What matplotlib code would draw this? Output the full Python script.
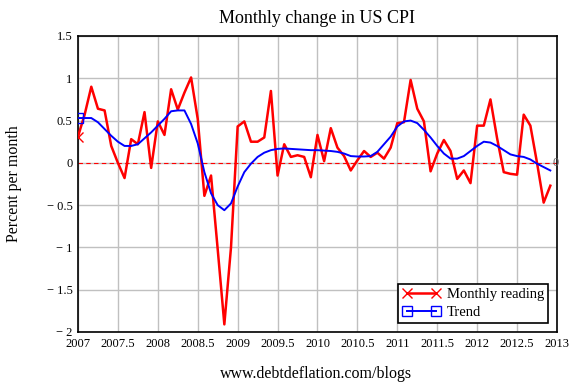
import numpy as np
import matplotlib.pyplot as plt
from matplotlib.ticker import FuncFormatter

# monthly CPI change, Jan 2007 - Dec 2012
monthly = [0.31, 0.57, 0.90, 0.64, 0.62, 0.20, 0.00, -0.18, 0.28, 0.22, 0.60, -0.06,
           0.49, 0.33, 0.87, 0.63, 0.83, 1.01, 0.52, -0.39, -0.15, -1.02, -1.91, -1.00,
           0.43, 0.49, 0.25, 0.25, 0.30, 0.85, -0.15, 0.22, 0.07, 0.09, 0.07, -0.17,
           0.33, 0.02, 0.41, 0.18, 0.08, -0.09, 0.03, 0.14, 0.07, 0.12, 0.05, 0.18,
           0.47, 0.48, 0.98, 0.64, 0.49, -0.10, 0.11, 0.27, 0.14, -0.19, -0.09, -0.24,
           0.44, 0.44, 0.75, 0.29, -0.11, -0.13, -0.14, 0.57, 0.44, 0.00, -0.47, -0.27]

trend = [0.53, 0.53, 0.53, 0.48, 0.40, 0.32, 0.25, 0.20, 0.20, 0.22, 0.29, 0.36,
         0.44, 0.52, 0.61, 0.62, 0.62, 0.46, 0.23, -0.11, -0.36, -0.50, -0.56, -0.48,
         -0.28, -0.11, -0.01, 0.07, 0.12, 0.15, 0.165, 0.17, 0.165, 0.16, 0.155, 0.15,
         0.15, 0.145, 0.14, 0.13, 0.11, 0.08, 0.075, 0.075, 0.08, 0.13, 0.22, 0.31,
         0.43, 0.49, 0.50, 0.47, 0.39, 0.30, 0.20, 0.11, 0.05, 0.05, 0.08, 0.14,
         0.20, 0.25, 0.24, 0.20, 0.15, 0.10, 0.08, 0.07, 0.04, -0.01, -0.05, -0.09]

years = 2007 + np.arange(len(monthly)) / 12.0

xticks = np.arange(2007, 2013.01, 0.5)
yticks = np.arange(-2, 1.51, 0.5)

plt.rcParams['font.family'] = ['Liberation Serif', 'DejaVu Serif']

fig = plt.figure(figsize=(5.85, 3.85), dpi=100)
ax = fig.add_axes([0.1333, 0.1377, 0.8188, 0.7688])

ax.axhline(0, color='red', lw=0.8, ls=(0, (4, 3)), zorder=2)
ax.text(2012.94, 0, '0', color='#666666', fontsize=9, va='center', ha='left')

ax.plot(years, monthly, color='red', lw=1.8, marker='x', markevery=[0],
        ms=7, mew=1, label='Monthly reading', zorder=3)
ax.plot(years, trend, color='blue', lw=1.4, marker='s', markevery=[0],
        ms=7, mfc='none', mew=1, label='Trend', zorder=4)

ax.set_xlim(2007, 2013)
ax.set_ylim(-2, 1.5)
ax.set_xticks(xticks)
ax.set_yticks(yticks)

def fmt(v, pos):
    s = ('%g' % abs(v))
    return ('\u2212 ' + s) if v < 0 else s

ax.xaxis.set_major_formatter(FuncFormatter(lambda v, p: '%g' % v))
ax.yaxis.set_major_formatter(FuncFormatter(fmt))
ax.tick_params(length=0, labelsize=9, pad=4)
ax.grid(color='#c0c0c0', lw=1)
ax.set_axisbelow(True)
for sp in ax.spines.values():
    sp.set_linewidth(1.2)
    sp.set_color('black')

ax.set_title('Monthly change in US CPI', fontsize=13, pad=9)
ax.set_ylabel('Percent per month', fontsize=11.5, labelpad=18)
fig.text(0.54, 0.018, 'www.debtdeflation.com/blogs', fontsize=11.5, ha='center')

leg = ax.legend(loc='lower right', numpoints=2, fontsize=10.5, fancybox=False,
                framealpha=1, edgecolor='black', borderpad=0.3, handlelength=2.6,
                labelspacing=0.3, handletextpad=0.4, borderaxespad=0.6)
leg.get_frame().set_linewidth(1.2)

fig.savefig('out.png', dpi=100)
